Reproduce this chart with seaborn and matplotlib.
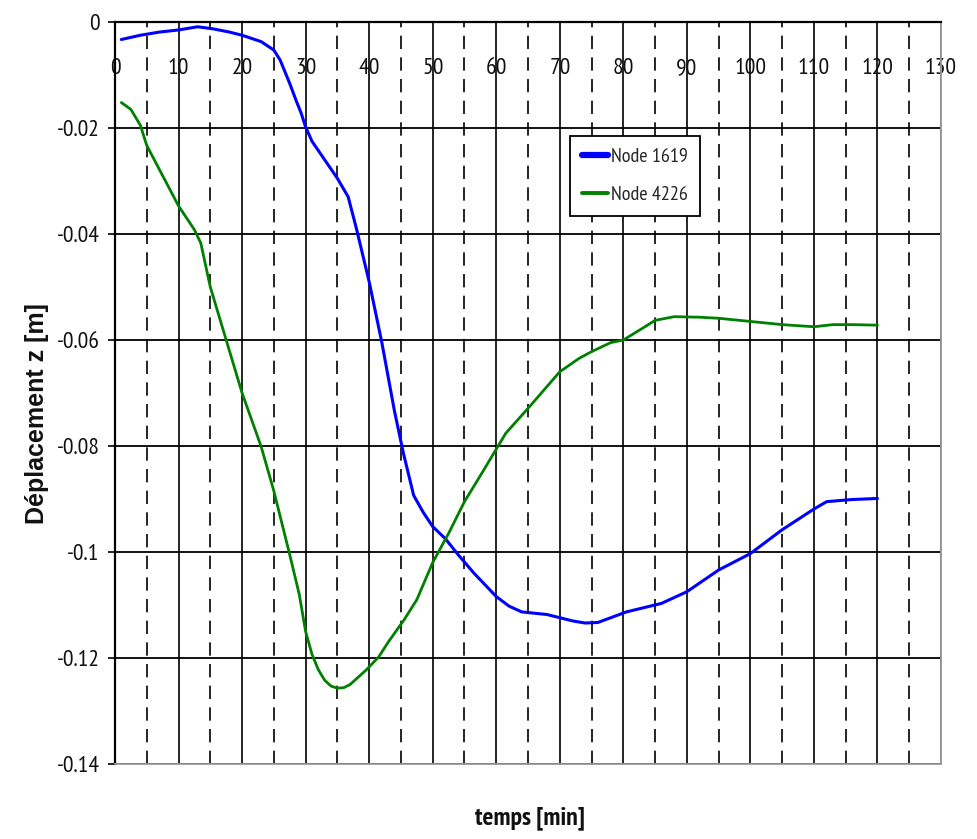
import matplotlib
matplotlib.use("Agg")
import matplotlib.pyplot as plt
from matplotlib import font_manager
import seaborn as sns
import pandas as pd

# ---------------- data ----------------
t_1619 = [1, 4, 7, 10, 13, 15.5, 18, 20, 23, 25, 26, 27.5, 28.5, 29.3, 30, 31, 33, 35,
          36.7, 38, 40, 42, 44, 45.4, 47, 48.5, 50, 52, 54, 56.5, 60, 62, 64, 68, 72,
          74, 76, 80.5, 86, 90, 95, 100, 105, 110, 112, 116, 120]
z_1619 = [-0.0033, -0.0025, -0.0019, -0.0015, -0.0009, -0.0013, -0.0019, -0.0025,
          -0.0037, -0.0053, -0.0072, -0.0116, -0.0148, -0.0172, -0.0198, -0.0225,
          -0.026, -0.0295, -0.033, -0.039, -0.049, -0.0605, -0.0735, -0.0814,
          -0.0893, -0.0925, -0.0952, -0.0975, -0.1005, -0.104, -0.1084, -0.1102,
          -0.1113, -0.1118, -0.1130, -0.1134, -0.1133, -0.1113, -0.1097, -0.1075,
          -0.1034, -0.1003, -0.0958, -0.0919, -0.0905, -0.0901, -0.0899]

t_4226 = [1, 2.5, 4, 5, 7.5, 10, 12.5, 13.5, 15, 17.5, 20, 23, 25, 27.5, 29, 30, 31,
          32, 33, 34, 35, 36, 37, 39.5, 41.5, 43, 45.5, 47.5, 50, 52.5, 55, 58, 61.5,
          65, 70, 73, 75, 78, 80, 83, 85, 88, 92, 95, 100, 105, 110, 113, 116, 120]
z_4226 = [-0.0152, -0.0165, -0.0195, -0.0233, -0.029, -0.0347, -0.0392, -0.0417,
          -0.05, -0.06, -0.07, -0.0801, -0.0885, -0.1005, -0.108, -0.1150, -0.1193,
          -0.1222, -0.1242, -0.1253, -0.1257, -0.1256, -0.1250, -0.1223, -0.1198,
          -0.117, -0.1128, -0.109, -0.102, -0.0965, -0.0905, -0.0846, -0.0776,
          -0.0729, -0.066, -0.0635, -0.0622, -0.0605, -0.06, -0.0578, -0.0563,
          -0.0556, -0.0557, -0.0559, -0.0565, -0.0571, -0.0575, -0.0571, -0.0571,
          -0.0572]

series_names = ["Node 1619", "Node 4226"]
x_ticks = list(range(0, 131, 10))
x_minor = list(range(5, 131, 10))
y_ticks = [0, -0.02, -0.04, -0.06, -0.08, -0.1, -0.12, -0.14]
y_tick_labels = ["0", "-0.02", "-0.04", "-0.06", "-0.08", "-0.1", "-0.12", "-0.14"]
x_label = "temps [min]"
y_label = "Déplacement z [m]"

df = pd.concat([
    pd.DataFrame({"t": t_1619, "z": z_1619, "node": series_names[0]}),
    pd.DataFrame({"t": t_4226, "z": z_4226, "node": series_names[1]}),
], ignore_index=True)

# ---------------- style ----------------
sns.set_theme(style="white")
weights = {}
for f in font_manager.fontManager.ttflist:
    w = f.weight if isinstance(f.weight, int) else 400
    weights.setdefault(f.name, set()).add(w)
prefs = ["Liberation Sans Narrow", "Arial Narrow", "PT Sans Narrow", "Archivo Narrow",
         "Roboto Condensed", "Pragati Narrow", "Fira Sans Condensed",
         "IBM Plex Sans Condensed", "Encode Sans Condensed", "Asap Condensed",
         "Barlow Semi Condensed", "Liberation Sans"]
narrow = next((p for p in prefs if p in weights), "DejaVu Sans")
narrow_bold = next((p for p in prefs if p in weights and max(weights[p]) >= 700),
                   "Liberation Sans")
plt.rcParams["font.family"] = [narrow, "DejaVu Sans"]
plt.rcParams["axes.unicode_minus"] = False

fig = plt.figure(figsize=(9.78, 8.39), dpi=100)
ax = fig.add_axes([115 / 978, 75 / 839, 826 / 978, 742 / 839])

palette = {"Node 1619": "#0000ff", "Node 4226": "#008000"}
sns.lineplot(data=df, x="t", y="z", hue="node", palette=palette, ax=ax,
             estimator=None, sort=False, linewidth=2.0, zorder=5)
for line in ax.get_lines():
    if line.get_color() == "#0000ff":
        line.set_linewidth(2.2)
    line.set_solid_capstyle("round")
    line.set_solid_joinstyle("round")

ax.set_xlim(0, 130)
ax.set_ylim(-0.14, 0)

ax.set_xticks(x_ticks)
ax.set_xticks(x_minor, minor=True)
ax.set_xticklabels([str(v) for v in x_ticks])
ax.set_yticks(y_ticks)
ax.set_yticklabels(y_tick_labels)

ax.xaxis.set_ticks_position("top")
ax.tick_params(axis="x", which="both", top=False, bottom=False, labeltop=True,
               labelbottom=False, length=0, pad=-41, labelsize=17, colors="#111111")
ax.tick_params(axis="y", which="major", left=True, length=5, width=1.2,
               color="black", pad=6, labelsize=17, labelcolor="#111111")

ax.grid(False)
ax.xaxis.grid(True, which="major", color="black", linewidth=1.2, zorder=1)
ax.xaxis.grid(True, which="minor", color="black", linewidth=1.2,
              linestyle=(0, (8, 5)), zorder=1)
ax.yaxis.grid(True, which="major", color="black", linewidth=1.3, zorder=1)
ax.set_axisbelow(True)

for side in ["top", "left"]:
    ax.spines[side].set_color("black")
    ax.spines[side].set_linewidth(1.6)
for side in ["right", "bottom"]:
    ax.spines[side].set_color("#999999")
    ax.spines[side].set_linewidth(1.3)

ax.set_xlabel(x_label, fontsize=18.5, fontweight="bold", color="#111111",
              family=[narrow_bold, "DejaVu Sans"])
ax.xaxis.set_label_position("bottom")
ax.xaxis.set_label_coords(0.502, -0.057)
ax.set_ylabel(y_label, fontsize=18, fontweight="bold", color="#111111",
              family=["Liberation Sans", "DejaVu Sans"])
ax.yaxis.set_label_coords(-0.080, 0.472)

leg = ax.legend(loc="upper left", bbox_to_anchor=(0.551, 0.846), frameon=True,
                fancybox=False, shadow=False, fontsize=14.5, handlelength=1.3,
                handletextpad=0.15, borderpad=0.6, labelspacing=0.95,
                borderaxespad=0.0, title=None)
leg.get_frame().set_edgecolor("black")
leg.get_frame().set_linewidth(1.3)
leg.get_frame().set_facecolor("white")
leg.get_frame().set_alpha(1.0)
leg.set_zorder(10)
for h in leg.legend_handles:
    if h.get_color() == "#0000ff":
        h.set_linewidth(4.5)
    else:
        h.set_linewidth(2.8)

fig.savefig("out.png", dpi=100)
